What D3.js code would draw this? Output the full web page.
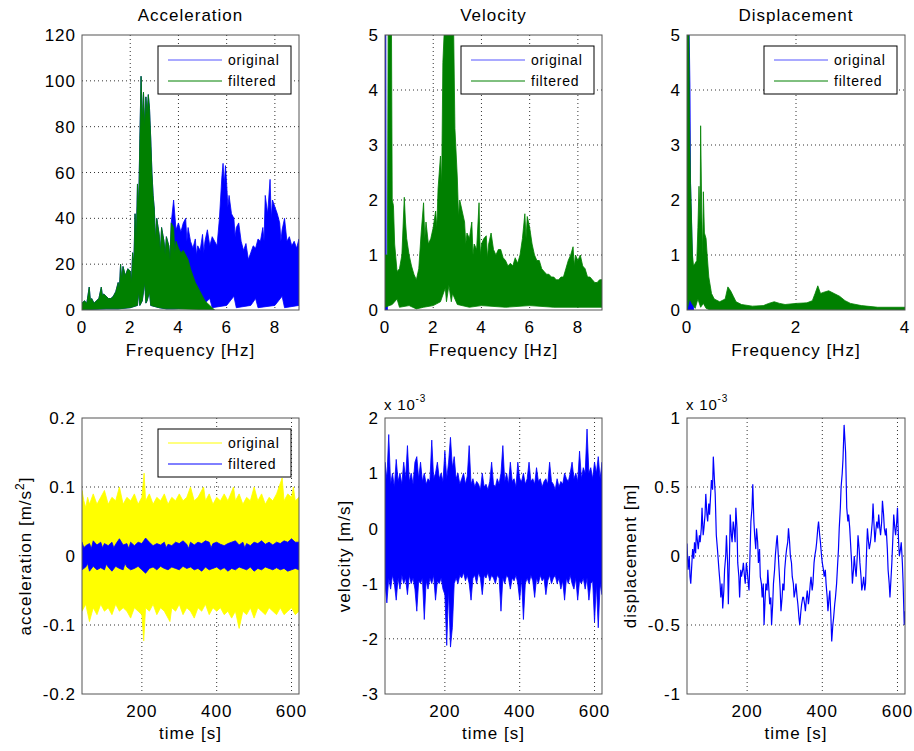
<!DOCTYPE html>
<html>
<head>
<meta charset="utf-8">
<script src="https://cdn.jsdelivr.net/npm/d3@7"></script>
<style>
  body { margin: 0; background: #fff; }
  text { font-family: "Liberation Sans", Arial, sans-serif; fill: #000; }
</style>
</head>
<body>
<svg id="chart"></svg>
<script>
// ---- spectra: [frequency Hz, amplitude] ----
// acceleration spectrum, filtered (green)
const accFiltHi = [[0,3],[0.1,4],[0.2,3],[0.3,10],[0.35,4],[0.4,5],[0.5,3],[0.6,4],[0.7,5],[0.8,10],[0.85,6],[0.9,7],[1.0,6],[1.1,5],[1.2,5],[1.3,6],[1.4,8],[1.5,12],[1.55,9],[1.6,20],[1.65,13],[1.7,19],[1.8,15],[1.9,18],[2.0,17],[2.05,12],[2.1,25],[2.15,20],[2.2,42],[2.25,30],[2.3,55],[2.35,45],[2.4,75],
  [2.45,102],[2.5,82],[2.55,95],[2.6,80],[2.65,93],[2.7,85],[2.75,94],[2.8,88],[2.85,75],[2.9,60],[2.95,50],[3.0,44],
  [3.05,30],[3.1,40],[3.2,33],[3.25,25],[3.3,36],[3.4,30],[3.45,24],[3.5,32],[3.6,28],[3.65,22],[3.7,38],[3.8,36],[3.85,25],[3.9,30],[4.0,27],[4.1,25],[4.2,26],[4.3,24],[4.4,22],[4.5,18],[4.6,15],[4.7,12],[4.8,10],[4.9,8],[5.0,6],[5.1,4],[5.2,3],[5.3,2],[5.4,1],[5.5,0]];
const accFiltLo = [[0,0],[0.5,0.3],[1.0,0.5],[1.5,0.5],[2.0,1],[2.3,2],[2.35,8],[2.4,2],[2.5,4],[2.6,12],[2.65,3],[2.7,4],[2.8,8],[2.85,2],[3.2,1],[3.5,0.5],[4.0,0.5],[5.5,0]];
// acceleration spectrum, original (blue) - same as the green below 3.7 Hz, where it is hidden
const accOrigHi = [[0,3],[0.1,4],[0.2,3],[0.3,10],[0.35,4],[0.4,5],[0.5,3],[0.6,4],[0.7,5],[0.8,10],[0.85,6],[0.9,7],[1.0,6],[1.1,5],[1.2,5],[1.3,6],[1.4,8],[1.5,12],[1.55,9],[1.6,20],[1.65,13],[1.7,19],[1.8,15],[1.9,18],[2.0,17],[2.05,12],[2.1,25],[2.15,20],[2.2,42],[2.25,30],[2.3,55],[2.35,45],[2.4,75],
  [2.45,102],[2.5,82],[2.55,95],[2.6,80],[2.65,93],[2.7,85],[2.75,94],[2.8,88],[2.85,75],[2.9,60],[2.95,50],[3.0,44],
  [3.05,30],[3.1,40],[3.2,33],[3.25,25],[3.3,36],[3.4,30],[3.45,24],[3.5,32],[3.6,28],[3.65,22],[3.7,38],
  [3.8,48],[3.9,35],[4.0,38],[4.1,34],[4.2,38],[4.3,40],[4.35,30],[4.4,36],[4.5,30],[4.6,27],[4.7,31],[4.75,24],[4.8,28],[4.9,26],[5.0,33],[5.05,25],[5.1,30],[5.2,35],[5.3,28],[5.4,32],[5.5,30],[5.6,28],[5.7,40],[5.8,58],[5.85,64],[5.9,55],[5.95,63],[6.0,55],[6.05,45],[6.1,50],[6.2,42],[6.3,40],[6.35,32],[6.4,36],[6.5,38],[6.6,30],[6.7,26],[6.8,29],[6.9,22],[7.0,25],[7.1,28],[7.2,27],[7.3,31],[7.4,30],[7.5,36],[7.55,30],[7.6,50],[7.7,42],[7.8,57],[7.85,40],[7.9,48],[8.0,45],[8.1,42],[8.2,38],[8.25,30],[8.3,35],[8.4,40],[8.5,30],[8.6,32],[8.7,28],[8.8,30],[8.9,27],[9.0,31]];
const accOrigLo = [[0,0],[0.5,0.3],[1.0,0.5],[1.5,0.5],[2.0,1],[2.3,2],[2.35,8],[2.4,2],[2.5,4],[2.6,12],[2.65,3],[2.7,4],[2.8,8],[2.85,2],[3.2,1],[3.5,0.5],
  [3.8,0.5],[4.5,1],[5.0,2],[5.3,5],[5.4,1],[6.0,2],[6.3,6],[6.4,1],[7.0,2],[7.2,5],[7.3,1],[8.0,2],[8.3,6],[8.4,1],[9.0,2]];

// velocity spectrum
const velFiltHi = [[0,1.0],[0.1,1.0],[0.13,5],[0.27,5],[0.3,2.0],[0.35,1.9],[0.4,1.2],[0.5,0.7],[0.6,0.75],[0.7,1.0],[0.8,2.05],[0.85,1.6],[0.9,1.3],[1.0,1.0],[1.1,0.8],[1.2,0.65],[1.3,0.55],[1.4,0.75],[1.5,1.4],[1.6,1.95],[1.65,1.3],[1.7,1.6],[1.8,1.2],[1.9,1.3],[2.0,1.5],[2.1,1.8],[2.15,1.5],[2.2,2.2],[2.3,2.8],[2.35,2.3],[2.4,4.5],[2.45,5],[2.85,5],[2.9,3.3],[3.0,2.4],[3.05,1.7],[3.1,2.0],[3.2,1.8],[3.3,1.6],[3.35,1.2],[3.4,1.4],[3.5,1.3],[3.6,1.6],[3.65,1.0],[3.7,1.2],[3.8,1.1],[3.9,1.95],[3.95,1.0],[4.0,1.2],[4.1,1.3],[4.2,1.35],[4.25,0.95],[4.3,1.2],[4.4,1.4],[4.5,1.1],[4.6,1.0],[4.7,1.1],[4.8,1.1],[4.9,0.95],[5.0,0.9],[5.1,0.8],[5.2,0.85],[5.3,0.8],[5.4,0.95],[5.5,0.85],[5.6,1.0],[5.7,1.3],[5.8,1.75],[5.85,1.3],[5.9,1.7],[6.0,1.5],[6.1,1.2],[6.2,1.0],[6.3,0.9],[6.4,0.9],[6.5,0.75],[6.6,0.7],[6.7,0.65],[6.8,0.65],[6.9,0.6],[7.0,0.6],[7.1,0.55],[7.2,0.55],[7.3,0.6],[7.4,0.6],[7.5,0.75],[7.6,0.9],[7.7,1.0],[7.8,1.15],[7.85,0.8],[7.9,1.0],[8.0,0.9],[8.1,1.0],[8.2,0.8],[8.3,0.75],[8.4,0.6],[8.5,0.6],[8.6,0.55],[8.7,0.5],[8.8,0.5],[8.9,0.55],[9.0,0.55]];
const velFiltLo = [[0,0.05],[0.3,0.1],[0.5,0.2],[0.6,0.05],[1.0,0.08],[1.3,0.02],[1.6,0.05],[2.0,0.08],[2.3,0.15],[2.5,0.4],[2.55,0.15],[2.65,0.45],[2.75,0.15],[2.8,0.3],[3.0,0.1],[3.5,0.05],[4.0,0.08],[5.0,0.05],[6.0,0.08],[7.0,0.05],[8.0,0.05],[9.0,0.05]];
const velOrigHi = [[0,1.8],[0.015,5],[0.035,5],[0.05,0.9],[0.1,0.9]];
const velOrigLo = [[0,0],[0.1,0]];

// displacement spectrum
const dispFiltHi = [[0,5],[0.035,5],[0.045,3.5],[0.065,2.3],[0.09,1.4],[0.1,1.0],[0.12,0.8],[0.15,0.85],[0.18,0.9],[0.2,1.5],[0.22,2.25],[0.24,1.6],[0.25,3.35],[0.27,1.8],[0.29,1.0],[0.3,2.15],[0.32,1.4],[0.35,1.3],[0.37,1.0],[0.4,0.6],[0.45,0.3],[0.5,0.2],[0.6,0.15],[0.7,0.2],[0.75,0.42],[0.8,0.35],[0.85,0.25],[0.9,0.15],[1.0,0.1],[1.2,0.07],[1.4,0.08],[1.5,0.12],[1.6,0.15],[1.7,0.12],[1.8,0.1],[2.0,0.12],[2.2,0.13],[2.3,0.17],[2.35,0.3],[2.4,0.44],[2.45,0.3],[2.5,0.32],[2.6,0.35],[2.7,0.3],[2.8,0.25],[2.9,0.17],[3.0,0.12],[3.2,0.08],[3.5,0.05],[4.0,0.05]];
const dispFiltLo = [[0,0],[0.05,0.2],[0.1,0.1],[0.15,0.03],[0.2,0.2],[0.25,0.05],[0.3,0.12],[0.35,0.03],[0.4,0.01],[4.0,0]];
const dispOrigHi = [[0,5],[0.04,5],[0.055,4.05],[0.065,2.3],[0.1,0.9],[0.12,0]];
const dispOrigLo = [[0,0],[0.12,0]];

// ---- time histories: [time s, value] ----
// acceleration, original (yellow) envelope
const accYellowHi = [[40,0.095],[45,0.08],[50,0.07],[55,0.085],[60,0.075],[70,0.09],[80,0.075],[90,0.085],[100,0.095],[110,0.075],[120,0.085],[130,0.08],[140,0.1],[150,0.075],[160,0.085],[170,0.08],[180,0.09],[190,0.075],[200,0.085],[206,0.12],[210,0.08],[220,0.09],[230,0.075],[240,0.085],[250,0.08],[260,0.09],[270,0.075],[280,0.085],[290,0.08],[300,0.09],[310,0.08],[320,0.085],[330,0.1],[340,0.08],[350,0.085],[365,0.1],[370,0.08],[380,0.09],[390,0.075],[400,0.085],[410,0.08],[420,0.09],[430,0.08],[445,0.1],[450,0.08],[460,0.09],[470,0.075],[480,0.085],[490,0.08],[500,0.1],[510,0.08],[520,0.09],[530,0.075],[540,0.085],[550,0.08],[560,0.09],[575,0.113],[580,0.08],[590,0.09],[600,0.085],[605,0.1],[610,0.08],[620,0.085]];
const accYellowLo = [[40,-0.08],[50,-0.07],[60,-0.095],[70,-0.075],[80,-0.085],[90,-0.07],[100,-0.08],[110,-0.075],[120,-0.085],[130,-0.07],[140,-0.08],[150,-0.075],[160,-0.08],[170,-0.09],[180,-0.075],[190,-0.08],[200,-0.085],[205,-0.123],[210,-0.075],[220,-0.08],[230,-0.07],[240,-0.085],[250,-0.075],[260,-0.08],[275,-0.095],[280,-0.075],[290,-0.08],[300,-0.07],[310,-0.085],[320,-0.075],[330,-0.08],[340,-0.09],[350,-0.075],[360,-0.08],[370,-0.07],[380,-0.085],[390,-0.075],[400,-0.08],[410,-0.075],[420,-0.085],[430,-0.08],[440,-0.09],[450,-0.08],[460,-0.105],[470,-0.08],[480,-0.085],[490,-0.075],[500,-0.09],[510,-0.075],[520,-0.08],[530,-0.085],[540,-0.075],[550,-0.08],[560,-0.085],[570,-0.075],[580,-0.085],[590,-0.08],[600,-0.075],[610,-0.085],[620,-0.08]];
// acceleration, filtered (blue) envelope
const accBlueHi = [[40,0.02],[45,0.012],[50,0.015],[60,0.018],[65,0.011],[70,0.022],[80,0.016],[90,0.02],[95,0.012],[100,0.018],[110,0.015],[120,0.02],[125,0.012],[130,0.017],[140,0.025],[150,0.016],[160,0.018],[165,0.011],[170,0.02],[180,0.015],[190,0.02],[200,0.018],[210,0.026],[220,0.02],[230,0.015],[240,0.018],[250,0.016],[260,0.02],[265,0.012],[270,0.017],[280,0.015],[290,0.02],[300,0.018],[310,0.022],[320,0.017],[325,0.011],[330,0.02],[340,0.016],[350,0.02],[360,0.018],[370,0.022],[380,0.02],[385,0.012],[390,0.018],[400,0.02],[410,0.017],[420,0.015],[430,0.018],[440,0.02],[450,0.022],[460,0.016],[470,0.02],[475,0.012],[480,0.018],[490,0.015],[500,0.02],[510,0.018],[520,0.022],[530,0.017],[540,0.02],[550,0.016],[560,0.02],[570,0.018],[580,0.022],[590,0.02],[600,0.025],[610,0.02],[620,0.02]];
const accBlueLo = [[40,-0.02],[50,-0.016],[55,-0.011],[60,-0.022],[70,-0.015],[80,-0.02],[90,-0.017],[100,-0.02],[105,-0.012],[110,-0.016],[120,-0.022],[130,-0.015],[140,-0.018],[150,-0.02],[155,-0.011],[160,-0.016],[170,-0.02],[180,-0.018],[190,-0.015],[200,-0.02],[210,-0.025],[220,-0.018],[230,-0.016],[240,-0.02],[250,-0.015],[260,-0.018],[270,-0.02],[280,-0.016],[290,-0.018],[300,-0.02],[310,-0.015],[320,-0.018],[330,-0.016],[340,-0.02],[350,-0.018],[360,-0.022],[370,-0.016],[380,-0.02],[390,-0.018],[400,-0.016],[410,-0.02],[420,-0.017],[430,-0.022],[440,-0.018],[450,-0.02],[460,-0.016],[470,-0.018],[480,-0.02],[490,-0.016],[500,-0.022],[510,-0.018],[520,-0.02],[530,-0.016],[540,-0.018],[550,-0.02],[560,-0.017],[570,-0.02],[580,-0.018],[590,-0.022],[600,-0.02],[610,-0.018],[620,-0.02]];

// velocity envelope, units of 1e-3 m/s
const velHi = [[40,1.2],[45,0.9],[50,1.7],[55,0.8],[60,1.0],[65,0.75],[70,1.25],[75,0.85],[80,1.0],[85,0.8],[90,1.2],[95,0.9],[100,1.5],[105,0.85],[110,1.0],[115,0.8],[120,1.2],[125,1.3],[130,0.9],[135,1.2],[140,0.85],[145,1.0],[150,0.8],[155,0.9],[160,0.85],[165,1.6],[170,0.9],[175,1.0],[180,1.2],[185,0.9],[190,1.0],[195,0.85],[200,1.4],[205,0.9],[210,1.2],[215,1.65],[220,1.1],[225,1.3],[230,0.9],[235,1.0],[240,0.8],[245,0.9],[250,1.0],[255,0.8],[260,0.95],[265,1.5],[270,0.8],[275,0.9],[280,0.75],[285,0.85],[290,0.8],[295,0.7],[300,1.0],[305,0.75],[310,0.8],[315,0.7],[320,0.85],[325,1.2],[330,0.8],[335,0.75],[340,0.9],[345,0.8],[350,1.0],[355,1.5],[360,0.85],[365,1.0],[370,0.8],[375,1.2],[380,0.85],[385,0.9],[390,0.75],[395,1.2],[400,0.9],[405,0.85],[410,1.0],[415,0.8],[420,0.9],[425,1.2],[430,0.85],[435,0.9],[440,0.8],[445,1.1],[450,0.85],[455,0.9],[460,0.75],[465,0.85],[470,0.9],[475,0.8],[480,1.2],[485,0.85],[490,0.8],[495,0.7],[500,0.9],[505,0.75],[510,0.85],[515,0.8],[520,1.0],[525,0.9],[530,0.85],[535,1.0],[540,1.2],[545,0.9],[550,1.0],[555,0.85],[560,1.4],[565,0.9],[570,1.1],[575,1.0],[580,1.8],[585,1.0],[590,1.1],[595,0.9],[600,1.2],[605,1.0],[610,1.3],[615,0.9],[620,1.2]];
const velLo = [[40,-1.0],[45,-1.35],[50,-0.9],[55,-1.1],[60,-0.85],[65,-1.0],[70,-1.3],[75,-0.9],[80,-1.1],[85,-0.85],[90,-1.0],[95,-0.9],[100,-1.2],[105,-0.85],[110,-1.0],[115,-0.9],[120,-1.1],[125,-1.5],[130,-0.95],[135,-1.0],[140,-0.9],[145,-1.65],[150,-0.95],[155,-1.1],[160,-0.9],[165,-1.0],[170,-0.85],[175,-1.3],[180,-0.95],[185,-1.0],[190,-0.9],[195,-1.1],[200,-1.2],[205,-2.12],[210,-1.1],[215,-2.15],[220,-1.8],[225,-1.0],[230,-0.9],[235,-1.0],[240,-0.85],[245,-0.9],[250,-0.8],[255,-0.95],[260,-0.85],[265,-1.0],[270,-1.3],[275,-0.9],[280,-0.85],[285,-1.0],[290,-0.8],[295,-0.9],[300,-1.2],[305,-0.85],[310,-0.9],[315,-0.8],[320,-0.95],[325,-0.85],[330,-0.9],[335,-1.0],[340,-0.85],[345,-0.9],[350,-1.5],[355,-0.9],[360,-1.0],[365,-0.85],[370,-0.9],[375,-1.1],[380,-0.9],[385,-0.95],[390,-0.85],[395,-1.0],[400,-1.3],[405,-0.9],[410,-1.65],[415,-1.0],[420,-0.9],[425,-1.0],[430,-0.85],[435,-0.95],[440,-1.25],[445,-0.9],[450,-1.0],[455,-0.85],[460,-0.95],[465,-0.9],[470,-1.2],[475,-0.95],[480,-0.85],[485,-1.0],[490,-0.9],[495,-0.85],[500,-1.0],[505,-0.9],[510,-1.1],[515,-0.95],[520,-1.3],[525,-0.9],[530,-1.0],[535,-0.85],[540,-1.0],[545,-1.1],[550,-0.9],[555,-1.3],[560,-0.95],[565,-1.0],[570,-0.9],[575,-1.1],[580,-0.9],[585,-1.3],[590,-1.0],[595,-0.95],[600,-1.7],[605,-1.0],[610,-1.8],[615,-1.0],[620,-1.2]];

// displacement, units of 1e-3 m
const disp = [[40,0.09],[43,-0.1],[46,0.0],[48,-0.15],[50,-0.2],[53,-0.05],[55,0.05],[58,-0.02],[60,0.1],[63,0.02],[65,0.19],[68,0.1],[70,0.05],[73,0.15],[75,0.1],[78,0.2],[80,0.35],[83,0.15],[85,0.2],[88,0.3],[90,0.45],[93,0.3],[95,0.25],[98,0.38],[100,0.3],[103,0.45],[105,0.55],[108,0.48],[110,0.72],[113,0.55],[115,0.45],[118,0.15],[121,0.05],[125,-0.1],[128,-0.2],[130,-0.3],[133,-0.2],[135,-0.38],[138,-0.25],[140,-0.1],[143,0.0],[145,0.15],[148,-0.05],[150,-0.35],[153,0.0],[155,0.3],[158,0.15],[160,0.1],[163,0.25],[165,0.2],[168,0.1],[170,0.35],[173,0.2],[175,-0.05],[178,-0.15],[180,-0.3],[183,-0.1],[185,-0.15],[188,-0.1],[190,-0.05],[193,-0.15],[195,-0.2],[198,-0.05],[200,-0.1],[203,-0.2],[205,-0.25],[208,0.05],[210,0.25],[213,0.35],[215,0.52],[218,0.25],[220,0.15],[223,0.05],[225,0.2],[228,0.1],[230,-0.05],[233,0.05],[235,-0.15],[238,-0.2],[240,-0.3],[243,-0.2],[245,-0.5],[248,-0.3],[250,-0.2],[253,-0.25],[255,-0.1],[258,-0.25],[260,-0.35],[263,-0.3],[265,-0.5],[268,-0.35],[270,-0.2],[273,-0.1],[275,0.0],[278,0.1],[280,0.15],[283,0.0],[285,-0.1],[288,-0.25],[290,-0.4],[293,-0.3],[295,-0.2],[298,-0.25],[300,-0.1],[303,0.0],[305,0.05],[308,0.1],[310,0.2],[313,0.1],[315,0.0],[318,-0.05],[320,-0.15],[323,-0.2],[325,-0.3],[328,-0.25],[330,-0.2],[333,-0.3],[335,-0.35],[338,-0.45],[340,-0.5],[343,-0.4],[345,-0.35],[348,-0.3],[350,-0.3],[353,-0.35],[355,-0.4],[358,-0.3],[360,-0.25],[363,-0.35],[365,-0.3],[368,-0.2],[370,-0.15],[373,-0.25],[375,-0.2],[378,-0.05],[380,0.0],[383,0.05],[385,0.1],[388,0.2],[390,0.25],[393,0.15],[395,0.1],[398,0.0],[400,-0.05],[403,-0.1],[405,-0.15],[408,-0.1],[410,-0.2],[413,-0.3],[415,-0.4],[418,-0.3],[420,-0.25],[423,-0.45],[425,-0.62],[428,-0.5],[430,-0.45],[433,-0.35],[435,-0.3],[438,-0.2],[440,-0.1],[443,0.05],[445,0.2],[448,0.35],[450,0.5],[453,0.6],[455,0.7],[458,0.95],[460,0.85],[462,0.75],[465,0.35],[468,0.25],[470,0.3],[473,0.2],[475,0.1],[478,-0.05],[480,-0.2],[483,-0.1],[485,0.0],[488,-0.1],[490,-0.15],[493,0.0],[495,0.15],[498,0.05],[500,-0.05],[503,-0.15],[505,-0.25],[508,-0.2],[510,-0.15],[513,-0.25],[515,-0.2],[518,0.05],[520,0.2],[523,0.1],[525,0.05],[528,0.1],[530,0.15],[533,0.25],[535,0.38],[538,0.2],[540,0.1],[543,0.2],[545,0.25],[548,0.2],[550,0.3],[553,0.2],[555,0.15],[558,0.25],[560,0.4],[563,0.3],[565,0.2],[568,0.15],[570,0.2],[573,0.05],[575,-0.1],[578,-0.2],[580,-0.3],[583,-0.15],[585,-0.05],[588,0.15],[590,0.3],[593,0.2],[595,0.15],[598,0.25],[600,0.35],[603,0.1],[605,0.0],[608,0.05],[610,0.1],[613,-0.05],[615,-0.2],[618,-0.5],[620,-0.4]];

// ticks
const accSpecTicks = [0,20,40,60,80,100,120];
const fiveTicks = [0,1,2,3,4,5];
const freq9Ticks = [0,2,4,6,8];
const freq4Ticks = [0,2,4];
const timeTicks = [200,400,600];
const accTimeTicks = [-0.2,-0.1,0,0.1,0.2];
const velTimeTicks = [-3,-2,-1,0,1,2];
const dispTimeTicks = [-1,-0.5,0,0.5,1];

const svgWidth = 914, svgHeight = 751;
const cols = [[82,299],[385,602],[687,905]];
const rows = [[35,310],[418,694]];

const chart = d3.select('#chart')
    .attr("width", svgWidth)
    .attr("height", svgHeight);

const LS = "1px";

function panel(id, col, row, xDomain, yDomain, xTicks, yTicks) {
    const x = d3.scaleLinear().domain(xDomain).range(cols[col]);
    const y = d3.scaleLinear().domain(yDomain).range([rows[row][1], rows[row][0]]);
    const [x0, x1] = cols[col], [y0, y1] = rows[row];
    const g = chart.append("g");

    g.append("rect").attr("x", x0).attr("y", y0).attr("width", x1 - x0).attr("height", y1 - y0).attr("fill", "#fff");

    chart.append("clipPath").attr("id", "clip" + id)
        .append("rect").attr("x", x0).attr("y", y0).attr("width", x1 - x0).attr("height", y1 - y0);

    // dotted grid, under the data
    g.selectAll(".gx").data(xTicks.filter(d => x(d) > x0 + 1 && x(d) < x1 - 1)).enter().append("line")
        .attr("x1", d => x(d)).attr("x2", d => x(d)).attr("y1", y0).attr("y2", y1)
        .attr("stroke", "#333").attr("stroke-dasharray", "1,3");
    g.selectAll(".gy").data(yTicks.filter(d => y(d) > y0 + 1 && y(d) < y1 - 1)).enter().append("line")
        .attr("y1", d => y(d)).attr("y2", d => y(d)).attr("x1", x0).attr("x2", x1)
        .attr("stroke", "#333").attr("stroke-dasharray", "1,3");

    const plot = g.append("g").attr("clip-path", "url(#clip" + id + ")");

    // tick labels
    g.selectAll(".tx").data(xTicks).enter().append("text")
        .attr("x", d => x(d)).attr("y", y1 + 23)
        .attr("text-anchor", "middle").style("font-size", "17px").style("letter-spacing", LS)
        .text(d => String(d));
    g.selectAll(".ty").data(yTicks).enter().append("text")
        .attr("x", x0 - 6).attr("y", d => y(d)).attr("dy", "0.36em")
        .attr("text-anchor", "end").style("font-size", "17px").style("letter-spacing", LS)
        .text(d => String(d));

    return {g, plot, x, y, x0, x1, y0, y1};
}

// box drawn over the data
function finish(p) {
    p.g.append("rect").attr("x", p.x0).attr("y", p.y0).attr("width", p.x1 - p.x0).attr("height", p.y1 - p.y0)
        .attr("fill", "none").attr("stroke", "#555").attr("stroke-width", 1);
}

// dense signal drawn as the band between its upper and lower envelope
function envelope(p, hi, lo, color) {
    const line = d3.line().x(d => p.x(d[0])).y(d => p.y(d[1]));
    const pts = hi.concat(lo.slice().reverse());
    p.plot.append("path")
        .attr("d", line(pts) + "Z")
        .attr("fill", color)
        .attr("stroke", color).attr("stroke-width", 0.8);
}

function legend(p, items) {
    const lx = p.x1 - 141, ly = p.y0 + 11;
    const lg = p.g.append("g");
    lg.append("rect").attr("x", lx).attr("y", ly).attr("width", 133).attr("height", 48)
        .attr("fill", "#fff").attr("stroke", "#000");
    items.forEach((it, i) => {
        const yy = ly + 14 + i * 21;
        lg.append("line").attr("x1", lx + 10).attr("x2", lx + 64).attr("y1", yy).attr("y2", yy)
            .attr("stroke", it.color).attr("stroke-width", 1);
        lg.append("text").attr("x", lx + 70).attr("y", yy).attr("dy", "0.36em")
            .style("font-size", "14px").style("letter-spacing", "0.8px").text(it.name);
    });
}

function title(p, txt) {
    p.g.append("text").attr("x", (p.x0 + p.x1) / 2).attr("y", p.y0 - 14)
        .attr("text-anchor", "middle").style("font-size", "17px").style("letter-spacing", LS).text(txt);
}

function xLabel(p, txt, off) {
    p.g.append("text").attr("x", (p.x0 + p.x1) / 2).attr("y", p.y1 + off)
        .attr("text-anchor", "middle").style("font-size", "17px").style("letter-spacing", LS).text(txt);
}

function yLabel(p, xpos, txt, sup) {
    const t = p.g.append("text")
        .attr("transform", "translate(" + xpos + "," + ((p.y0 + p.y1) / 2) + ") rotate(-90)")
        .attr("text-anchor", "middle").style("font-size", "17px").style("letter-spacing", LS);
    if (sup) {
        t.append("tspan").text(txt);
        t.append("tspan").attr("dy", "-7").style("font-size", "12px").text(sup);
        t.append("tspan").attr("dy", "7").text("]");
    } else {
        t.text(txt);
    }
}

function exponent(p) {
    const t = p.g.append("text").attr("x", p.x0 - 1).attr("y", p.y0 - 8)
        .style("font-size", "15px").style("letter-spacing", "0.8px");
    t.append("tspan").text("x 10");
    t.append("tspan").attr("dy", "-8").style("font-size", "10px").text("-3");
}

// ---- top row: spectra ----
const pA = panel("a", 0, 0, [0, 9], [0, 120], freq9Ticks, accSpecTicks);
envelope(pA, accOrigHi, accOrigLo, "#0000ff");
envelope(pA, accFiltHi, accFiltLo, "#008000");
finish(pA);
title(pA, "Acceleration");
xLabel(pA, "Frequency [Hz]", 46);
legend(pA, [{name: "original", color: "#5555ff"}, {name: "filtered", color: "#008000"}]);

const pV = panel("v", 1, 0, [0, 9], [0, 5], freq9Ticks, fiveTicks);
envelope(pV, velOrigHi, velOrigLo, "#0000ff");
envelope(pV, velFiltHi, velFiltLo, "#008000");
finish(pV);
title(pV, "Velocity");
xLabel(pV, "Frequency [Hz]", 46);
legend(pV, [{name: "original", color: "#5555ff"}, {name: "filtered", color: "#008000"}]);

const pD = panel("d", 2, 0, [0, 4], [0, 5], freq4Ticks, fiveTicks);
envelope(pD, dispOrigHi, dispOrigLo, "#0000ff");
envelope(pD, dispFiltHi, dispFiltLo, "#008000");
finish(pD);
title(pD, "Displacement");
xLabel(pD, "Frequency [Hz]", 46);
legend(pD, [{name: "original", color: "#5555ff"}, {name: "filtered", color: "#008000"}]);

// ---- bottom row: time histories ----
const tA = panel("ta", 0, 1, [40, 620], [-0.2, 0.2], timeTicks, accTimeTicks);
envelope(tA, accYellowHi, accYellowLo, "#ffff00");
envelope(tA, accBlueHi, accBlueLo, "#0000ff");
finish(tA);
xLabel(tA, "time [s]", 45);
yLabel(tA, 31, "acceleration [m/s", "2");
legend(tA, [{name: "original", color: "#ffff00"}, {name: "filtered", color: "#0000ff"}]);

const tV = panel("tv", 1, 1, [40, 620], [-3, 2], timeTicks, velTimeTicks);
envelope(tV, velHi, velLo, "#0000ff");
finish(tV);
xLabel(tV, "time [s]", 45);
yLabel(tV, 350, "velocity [m/s]");
exponent(tV);

const tD = panel("td", 2, 1, [40, 620], [-1, 1], timeTicks, dispTimeTicks);
tD.plot.append("path")
    .datum(disp)
    .attr("d", d3.line().x(d => tD.x(d[0])).y(d => tD.y(d[1])))
    .attr("fill", "none").attr("stroke", "#0000ff").attr("stroke-width", 1.2);
finish(tD);
xLabel(tD, "time [s]", 45);
yLabel(tD, 636, "displacement [m]");
exponent(tD);
</script>
</body>
</html>
